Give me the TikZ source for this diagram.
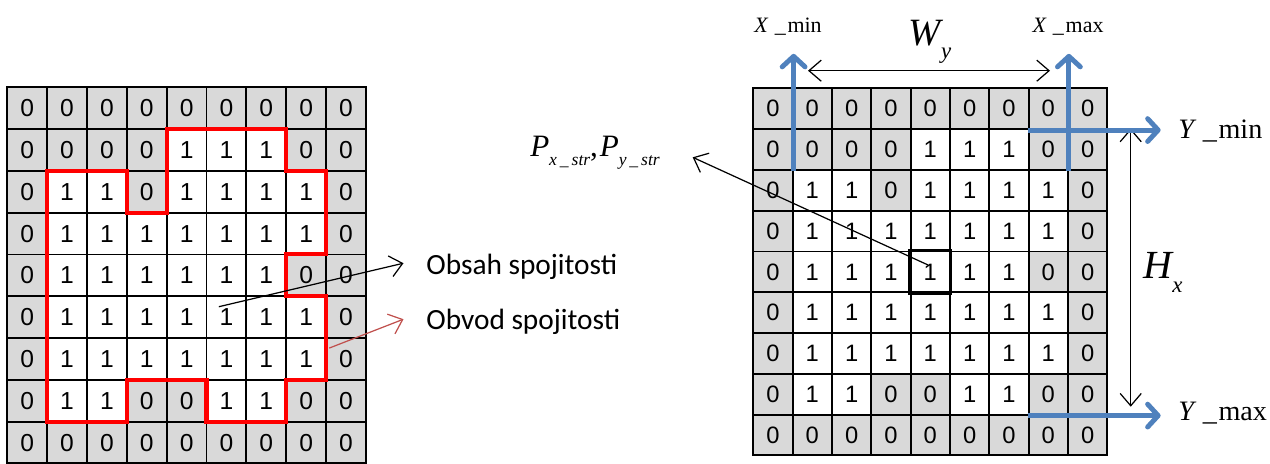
\documentclass[tikz,border=0pt]{standalone}
\usepackage{fontspec}
\usepackage{xcolor}
\usetikzlibrary{arrows.meta, positioning}
\newfontfamily\digitfont{Liberation Sans}
\newfontfamily\labelfont{Carlito}
\newfontfamily\tnr{Liberation Serif}
\definecolor{cellgray}{HTML}{D9D9D9}
\definecolor{markblue}{HTML}{4F81BD}
\definecolor{markred}{HTML}{C0504D}
\newcommand{\lowsub}[3]{\raisebox{-#1}{\fontsize{#2}{#2}\selectfont #3}}
\def\griddata{{0,0,0,0,0,0,0,0,0},{0,0,0,0,1,1,1,0,0},{0,1,1,0,1,1,1,1,0},{0,1,1,1,1,1,1,1,0},{0,1,1,1,1,1,1,0,0},{0,1,1,1,1,1,1,1,0},{0,1,1,1,1,1,1,1,0},{0,1,1,0,0,1,1,0,0},{0,0,0,0,0,0,0,0,0}}

\begin{document}
\begin{tikzpicture}[
    x=0.02cm, y=-0.02cm,
    cell/.style={draw, line width=1.1pt, inner sep=0pt, font=\digitfont\fontsize{14}{16}\selectfont},
    cell0/.style={cell, fill=cellgray},
    cell1/.style={cell, fill=white},
    contour/.style={draw=red, line width=2.3pt, line join=miter},
    boldcell/.style={draw=black, line width=1.8pt},
    thinarrow/.style={-{Straight Barb[length=7pt, width=12pt]}, line width=0.7pt},
    dimarrow/.style={{Straight Barb[length=7pt, width=12pt]}-{Straight Barb[length=7pt, width=12pt]}, line width=0.7pt},
    bluearrow/.style={-{Straight Barb[length=6pt, width=13pt, line cap=round, line join=round]}, draw=markblue, line width=2.8pt},
    seriflabel/.style={font=\tnr, inner sep=0pt}
]
    \useasboundingbox (0,0) rectangle (1270,463);

    % Left grid with contour
    \begin{scope}[shift={(7.3,87.3)}, x=0.797cm, y=-0.836cm,
        cell/.append style={minimum width=0.797cm, minimum height=0.836cm}]
        \foreach \row [count=\r] in \griddata {
            \foreach \v [count=\c] in \row {
                \node[cell\v] (L\r-\c) at (\c-0.5,\r-0.5) {\v};
            }
        }
        \draw[contour] (4,1) -- (7,1) -- (7,2) -- (8,2) -- (8,4) -- (7,4) -- (7,5) -- (8,5) -- (8,7)
            -- (7,7) -- (7,8) -- (5,8) -- (5,7) -- (3,7) -- (3,8) -- (1,8) -- (1,2) -- (3,2) -- (3,3)
            -- (4,3) -- cycle;
        \coordinate (obsahstart) at (5.31,5.25);
        \coordinate (obvodstart) at (8.08,6.24);
    \end{scope}

    % Right grid with bounds
    \begin{scope}[shift={(753.3,88.3)}, x=0.7867cm, y=-0.816cm,
        cell/.append style={minimum width=0.7867cm, minimum height=0.816cm, font=\digitfont\fontsize{13.5}{15}\selectfont}]
        \foreach \row [count=\r] in \griddata {
            \foreach \v [count=\c] in \row {
                \node[cell\v] (R\r-\c) at (\c-0.5,\r-0.5) {\v};
            }
        }
    \end{scope}
    \draw[boldcell] (R5-5.north west) rectangle (R5-5.south east);

    % Labels
    \node[font=\labelfont\fontsize{16.7}{18}\selectfont, anchor=west, inner sep=0pt] (obsah) at (426,266.7) {Obsah spojitosti};
    \node[font=\labelfont\fontsize{16.7}{18}\selectfont, anchor=west, inner sep=0pt] (obvod) at (426,321.7) {Obvod spojitosti};
    \node[seriflabel] (pstr) at (595,153) {\fontsize{17.7}{20}\selectfont\itshape P\lowsub{0.3em}{10}{x\,\_\,str}\upshape,\kern1pt\itshape P\lowsub{0.3em}{10}{y\,\_\,str}};
    \node[seriflabel] (xmin) at (788,26.7) {\fontsize{12.5}{14}\selectfont\itshape X\upshape\kern4pt\_\kern1pt min};
    \node[seriflabel] (xmax) at (1068,26.7) {\fontsize{12.5}{14}\selectfont\itshape X\upshape\kern4pt\_\kern1pt max};
    \node[seriflabel, anchor=west] (ymin) at (1178,131) {\fontsize{16}{18}\selectfont\itshape Y\upshape\kern5pt\_\kern1pt min};
    \node[seriflabel, anchor=west] (ymax) at (1178,413) {\fontsize{16}{18}\selectfont\itshape Y\upshape\kern5pt\_\kern1pt max};
    \node[seriflabel] (wy) at (930,42) {\fontsize{22}{24}\selectfont\itshape W\lowsub{0.35em}{13}{y}};
    \node[seriflabel] (hx) at (1163,272) {\fontsize{22.7}{24}\selectfont\itshape H\lowsub{0.35em}{13}{x}};

    % Dimension arrows
    \coordinate (wleft) at (808,70.7);
    \coordinate (wright) at (1050,70.7);
    \coordinate (htop) at (1130.7,128.5);
    \coordinate (hbottom) at (1130.7,406.7);
    \coordinate (ptip) at (692.7,157.3);
    \draw[dimarrow] (wleft) -- (wright);
    \draw[dimarrow] (htop) -- (hbottom);

    % Pointer arrows
    \draw[thinarrow] ([shift={(-0.05cm,0.14cm)}]R5-5.center) -- (ptip);
    \draw[thinarrow] (obsahstart) -- ([shift={(-0.45cm,0.07cm)}]obsah.west);
    \draw[thinarrow, draw=markred] (obvodstart) -- ([shift={(-0.45cm,0.05cm)}]obvod.west);

    % Blue bound arrows
    \draw[bluearrow] (R2-1.south east) -- ++(0,-117);
    \draw[bluearrow] (R2-8.south east) -- ++(0,-117);
    \draw[bluearrow] (R1-8.south west) -- ++(133,0);
    \draw[bluearrow] (R8-8.south west) -- ++(133,0);
\end{tikzpicture}
\end{document}
